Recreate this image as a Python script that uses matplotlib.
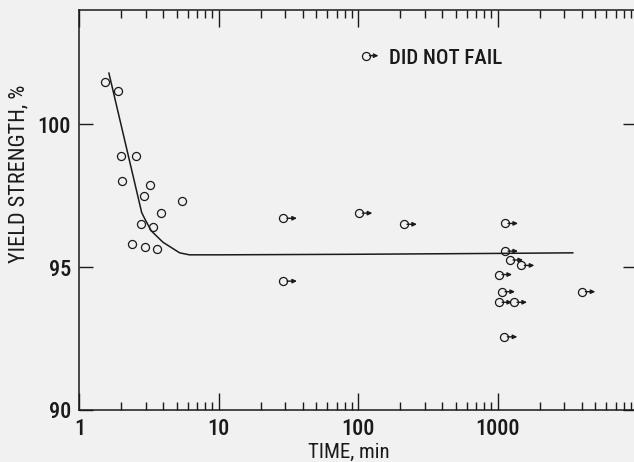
import matplotlib
matplotlib.use("Agg")
import matplotlib.pyplot as plt
from matplotlib.transforms import ScaledTranslation

# failed specimens (plain circles)
fail_time = [1.54, 1.90, 1.99, 2.53, 2.02, 3.23, 2.90, 5.44, 3.85, 2.78, 3.37, 2.40, 2.95, 3.60]
fail_ys = [101.47, 101.18, 98.89, 98.89, 98.03, 97.87, 97.49, 97.30, 96.89, 96.51, 96.42, 95.80, 95.72, 95.64]

# specimens that did not fail (circle with arrow)
nf_time = [29.1, 101, 211, 29.1, 1119, 1119, 1216, 1465, 1014, 1065, 4008, 1014, 1298, 1106]
nf_ys = [96.71, 96.89, 96.50, 94.51, 96.53, 95.56, 95.25, 95.06, 94.74, 94.14, 94.14, 93.77, 93.77, 92.56]

# faired curve
curve_time = [1.63, 2.80, 2.94, 3.28, 3.98, 5.24, 6.16, 10, 100, 1000, 3450]
curve_ys = [101.79, 96.91, 96.70, 96.27, 95.87, 95.50, 95.43, 95.43, 95.45, 95.48, 95.50]

plt.rcParams["font.family"] = ["Roboto Condensed", "DejaVu Sans"]
plt.rcParams["font.weight"] = 500

bg = "#f1f1f1"
ink = "#1a1a1a"
fig = plt.figure(figsize=(6.34, 4.62), dpi=100, facecolor=bg)
ax = fig.add_axes([0.1251, 0.1126, 0.880, 0.8658])
ax.set_facecolor(bg)
ax.set_xscale("log")
ax.set_xlim(1, 10000)
ax.set_ylim(90, 104)

ax.plot(curve_time, curve_ys, color=ink, lw=1.1)
ax.plot(fail_time, fail_ys, "o", mfc="none", mec=ink, ms=5.8, mew=0.9)
ax.plot(nf_time, nf_ys, "o", mfc="none", mec=ink, ms=5.8, mew=0.9)

arrow_style = dict(arrowstyle="-|>,head_length=0.25,head_width=0.12",
                   color=ink, lw=1.0, shrinkA=0, shrinkB=0)
head = ax.transData + ScaledTranslation(0.135, 0, fig.dpi_scale_trans)
tail = ax.transData + ScaledTranslation(0.035, 0, fig.dpi_scale_trans)
for t, v in zip(nf_time, nf_ys):
    ax.annotate("", xy=(t, v), xycoords=head, xytext=(t, v), textcoords=tail,
                arrowprops=arrow_style)

# legend
lx, ly = 0.5138, 0.8858
ax.plot([lx], [ly], "o", mfc="none", mec=ink, ms=5.8, mew=0.9, transform=ax.transAxes)
lhead = ax.transAxes + ScaledTranslation(0.125, 0, fig.dpi_scale_trans)
ltail = ax.transAxes + ScaledTranslation(0.035, 0, fig.dpi_scale_trans)
ax.annotate("", xy=(lx, ly), xycoords=lhead, xytext=(lx, ly), textcoords=ltail,
            arrowprops=arrow_style)
ax.text(0.555, 0.879, "DID NOT FAIL", transform=ax.transAxes, fontsize=15,
        va="center", ha="left", color=ink)

ax.set_xticks([1, 10, 100, 1000], ["1", "10", "100", "1000"])
ax.set_yticks([90, 95, 100], ["90", "95", "100"])
ax.tick_params(axis="both", which="both", direction="in", top=True, right=True,
               labelsize=16, width=1.0, color=ink, labelcolor=ink)
ax.tick_params(axis="x", which="major", length=12, pad=6)
ax.tick_params(axis="x", which="minor", length=6)
ax.tick_params(axis="y", which="major", length=10, pad=6)
ax.tick_params(axis="y", which="minor", left=False, right=False)
for s in ax.spines.values():
    s.set_linewidth(1.1)
    s.set_color(ink)

ax.set_xlabel("TIME, min", fontsize=15, color=ink)
ax.set_ylabel("YIELD STRENGTH, %", fontsize=16, color=ink)
ax.xaxis.set_label_coords(0.483, -0.0825)
ax.xaxis.label.set_va("top")
ax.yaxis.set_label_coords(-0.090, 0.59)

fig.savefig("out.png", dpi=100, facecolor=bg)
plt.close(fig)
